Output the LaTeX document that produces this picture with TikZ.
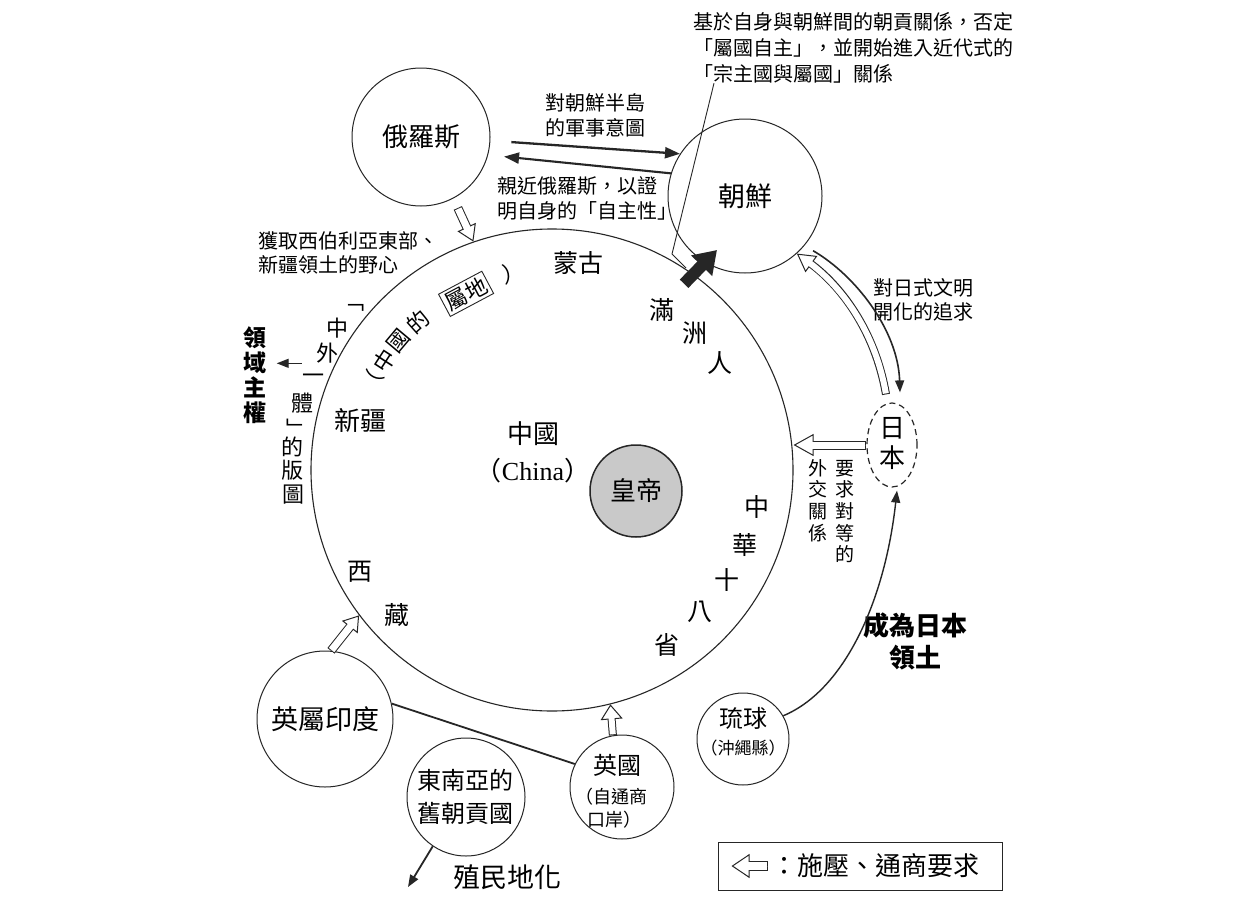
\documentclass[tikz,border=0pt]{standalone}
\usepackage{fontspec}
\setmainfont{Noto Sans CJK TC}
\newfontfamily\latinserif{Liberation Serif}
\usetikzlibrary{arrows.meta,shapes.geometric}
\definecolor{ink}{HTML}{262626}
\definecolor{empgray}{HTML}{C9C9C9}
\newcommand\fsz[2]{\fontsize{#1}{#2}\selectfont}
% hollow block arrow: #1 path, #2 shaft width, #3 head length, #4 head width
\newcommand\hollowarrow[4]{%
  \draw[ink, line width=#2, shorten >=#3-1.5pt] #1;
  \draw[white, line width=0.01pt, -{Triangle[open, color=ink, fill=white, length=#3, width=#4, line width=1pt]}] #1;
  \draw[white, line width=#2-2pt, shorten >=#3-4pt, shorten <=1pt] #1;
}
\begin{document}
\begin{tikzpicture}[x=1pt,y=1pt,
  ring/.style={circle,draw=ink,line width=1pt,inner sep=0pt},
  txt/.style={inner sep=0pt,align=center,text=black},
  thinarrow/.style={draw=ink,line width=1.4pt,-{Triangle[length=12pt,width=9pt]}},
  boldarrow/.style={draw=ink,line width=2.3pt,-{Triangle[length=15pt,width=11pt]}}]
\fill[white] (0,0) rectangle (1250,-910);
\useasboundingbox (0,0) rectangle (1250,-910);

% ---- circles ----
\node[ring, minimum size=482pt, line width=1.1pt] (cn) at (552,-470) {};
\node[ring, minimum size=92pt, fill=empgray, line width=1.5pt, font=\fsz{26}{30}] (emp) at (636,-491) {皇帝};
\node[ring, minimum size=138pt, font=\fsz{26}{30}] (ru) at (421,-137) {俄羅斯};
\node[ring, minimum size=154pt, font=\fsz{27}{30}] (kr) at (745,-196) {朝鮮};
\node[ring, minimum size=136pt, font=\fsz{27}{30}] (ind) at (325,-719) {英屬印度};
\node[ring, minimum size=104pt] (uk) at (622,-787) {};
\node[txt, font=\fsz{24}{28}] (uk1) at (617,-765) {英國};
\node[txt, font=\fsz{18}{22}] (uk2) at (611,-797) {（自通商};
\node[txt, font=\fsz{18}{22}] (uk3) at (614,-820) {口岸）};
\node[ring, minimum size=118pt] (sea) at (466,-797) {};
\node[txt, font=\fsz{24}{33}] (seatext) at (465,-796.5) {東南亞的\\舊朝貢國};
\node[ring, minimum size=92pt] (ryu) at (743,-739) {};
\node[txt, font=\fsz{24}{28}] (ryu1) at (743,-718) {琉球};
\node[txt, font=\fsz{17}{22}] (ryu2) at (743,-748) {（沖繩縣）};
\node[ellipse, draw=ink, dash pattern=on 6pt off 4pt, line width=1.2pt, minimum width=50pt, minimum height=84pt, inner sep=0pt] (jp) at (892,-445) {};
\node[txt, font=\fsz{26}{30}] (jptext) at (892,-443) {日\\本};

% ---- note at the top ----
\node[txt, align=left, anchor=north west, font=\fsz{20}{26}] (note) at (693,-12) {基於自身與朝鮮間的朝貢關係，否定\\「屬國自主」，並開始進入近代式的\\「宗主國與屬國」關係};

% ---- labels ----
\node[txt, font=\fsz{20}{25}] (milit) at (595,-115) {對朝鮮半島\\的軍事意圖};
\node[txt, align=left, anchor=west, font=\fsz{20}{25}] (auton) at (497,-198.5) {親近俄羅斯，以證\\明自身的「自主性」};
\node[txt, align=left, anchor=west, font=\fsz{20}{24}] (siber) at (258,-253) {獲取西伯利亞東部、\\新疆領土的野心};
\node[txt, align=left, anchor=west, font=\fsz{20}{24}] (civil) at (873,-300) {對日式文明\\開化的追求};
\node[txt, font=\fsz{19}{21.7}] (eq1) at (845,-511.5) {要\\求\\對\\等\\的};
\node[txt, font=\fsz{19}{21.7}] (eq2) at (818,-500.5) {外\\交\\關\\係};
\node[txt, font=\fsz{26}{32}\bfseries] (annex) at (915,-641) {成為日本\\領土};
\node[txt, font=\fsz{27}{30}] (colon) at (507,-877) {殖民地化};
\node[txt, font=\fsz{23}{25}\bfseries] (terr) at (255,-375.5) {領\\域\\主\\權};

% ---- inside the large circle ----
\tikzset{inner/.style={txt, font=\fsz{25}{28}}}
\node[inner] (mongol) at (578,-263) {蒙古};
\node[inner] (man1) at (662,-310) {滿};
\node[inner] (man2) at (695,-333) {洲};
\node[inner] (man3) at (720,-363) {人};
\node[inner, font=\fsz{26}{28}] (xj) at (360,-420) {新疆};
\node[inner, font=\fsz{26}{28}] (cnname) at (533,-434) {中國};
\node[inner, font=\fsz{26}{28}] (cnlatin) at (533,-471) {（{\latinserif China}）};
\node[inner] (tib1) at (360,-572) {西};
\node[inner] (tib2) at (397,-615) {藏};
\node[inner] (pr1) at (757,-507) {中};
\node[inner] (pr2) at (745,-545) {華};
\node[inner] (pr3) at (727,-580) {十};
\node[inner] (pr4) at (700,-612) {八};
\node[inner] (pr5) at (667,-645) {省};

% text following the rim
\tikzset{rim/.style={txt, font=\fsz{22}{24}}}
\node[rim, rotate=64] (arc1) at ([shift={(154:200pt)}]cn.center) {（};
\node[rim, rotate=57] (arc2) at ([shift={(147:200pt)}]cn.center) {中};
\node[rim, rotate=50] (arc3) at ([shift={(140:200pt)}]cn.center) {國};
\node[rim, rotate=42] (arc4) at ([shift={(132:200pt)}]cn.center) {的};
\node[rim, rotate=28, draw=ink, line width=0.9pt, inner sep=2.5pt] (arc5) at ([shift={(116:196pt)}]cn.center) {屬地};
\node[rim, rotate=11] (arc6) at ([shift={(101:200pt)}]cn.center) {）};

% column outside the rim
\node[rim] (c1) at (353,-308) {﹁};
\node[rim] (c2) at (337,-328) {中};
\node[rim] (c3) at (327,-353) {外};
\node[rim] (c4) at (313,-379) {一};
\node[rim] (c5) at (302,-403) {體};
\node[rim] (c6) at (297,-428) {﹂};
\node[rim] (c7) at (292,-447) {的};
\node[rim] (c8) at (292,-470) {版};
\node[rim] (c9) at (293,-495) {圖};

% legend
\node[draw=ink, line width=1pt, minimum width=284pt, minimum height=48pt, inner sep=0pt] (legend) at (860,-866) {};
\node[txt, anchor=west, font=\fsz{26}{28}] (legtext) at (771,-866) {：施壓、通商要求};

% ---- connectors ----
\draw[boldarrow, shorten <=21pt] (ru.-3) -- (kr.147);
\draw[boldarrow, line width=2.1pt, shorten >=16pt] (kr.163) -- (ru.-15);

% callout from the note to the thick arrow
\coordinate (knee) at (672,-254);
\coordinate (callend) at (686,-268);
\draw[ink, line width=0.9pt] ([xshift=21pt]note.south west) -- (knee) -- (callend);

% thick black arrow towards Korea
\coordinate (fatS) at ([shift={(-3pt,-14pt)}]cn.56);
\coordinate (fatE) at ([shift={(-28pt,-54pt)}]kr.center);
\draw[ink, line width=12pt, -{Triangle[length=22pt,width=28pt]}] (fatS) -- (fatE);

\hollowarrow{([yshift=-12pt]ru.302) -- (cn.109)}{9pt}{16pt}{20pt}
\hollowarrow{(ind.85) -- (cn.217.6)}{9pt}{15pt}{20pt}
\hollowarrow{(uk.100) -- (cn.284.7)}{8pt}{15pt}{22pt}
\hollowarrow{(jp.west) -- (jp.west -| cn.east)}{9pt}{20pt}{22pt}
\hollowarrow{([shift={(-6pt,8pt)}]jp.north) .. controls (875,-330) and (840,-285) .. (kr.-48)}{8pt}{18pt}{20pt}
\hollowarrow{([xshift=50pt]legend.west) -- ([xshift=14pt]legend.west)}{10pt}{18pt}{24pt}

\draw[thinarrow, line width=1.6pt] ([shift={(7pt,-7pt)}]kr.-38) .. controls (855,-275) and (898,-330) .. ([shift={(8pt,10pt)}]jp.north);
\draw[thinarrow] (ryu.30) .. controls (845,-690) and (885,-600) .. ([shift={(5pt,-3pt)}]jp.south);

\draw[ink, line width=1.8pt] (ind.13) -- (uk.154);
\coordinate (colz) at (408,-887);
\draw[thinarrow, line width=1.8pt] (sea.236) -- (colz);
\draw[thinarrow] (c4.west |- c3.south) -- ([xshift=10pt]terr.east |- c3.south);
\end{tikzpicture}
\end{document}
